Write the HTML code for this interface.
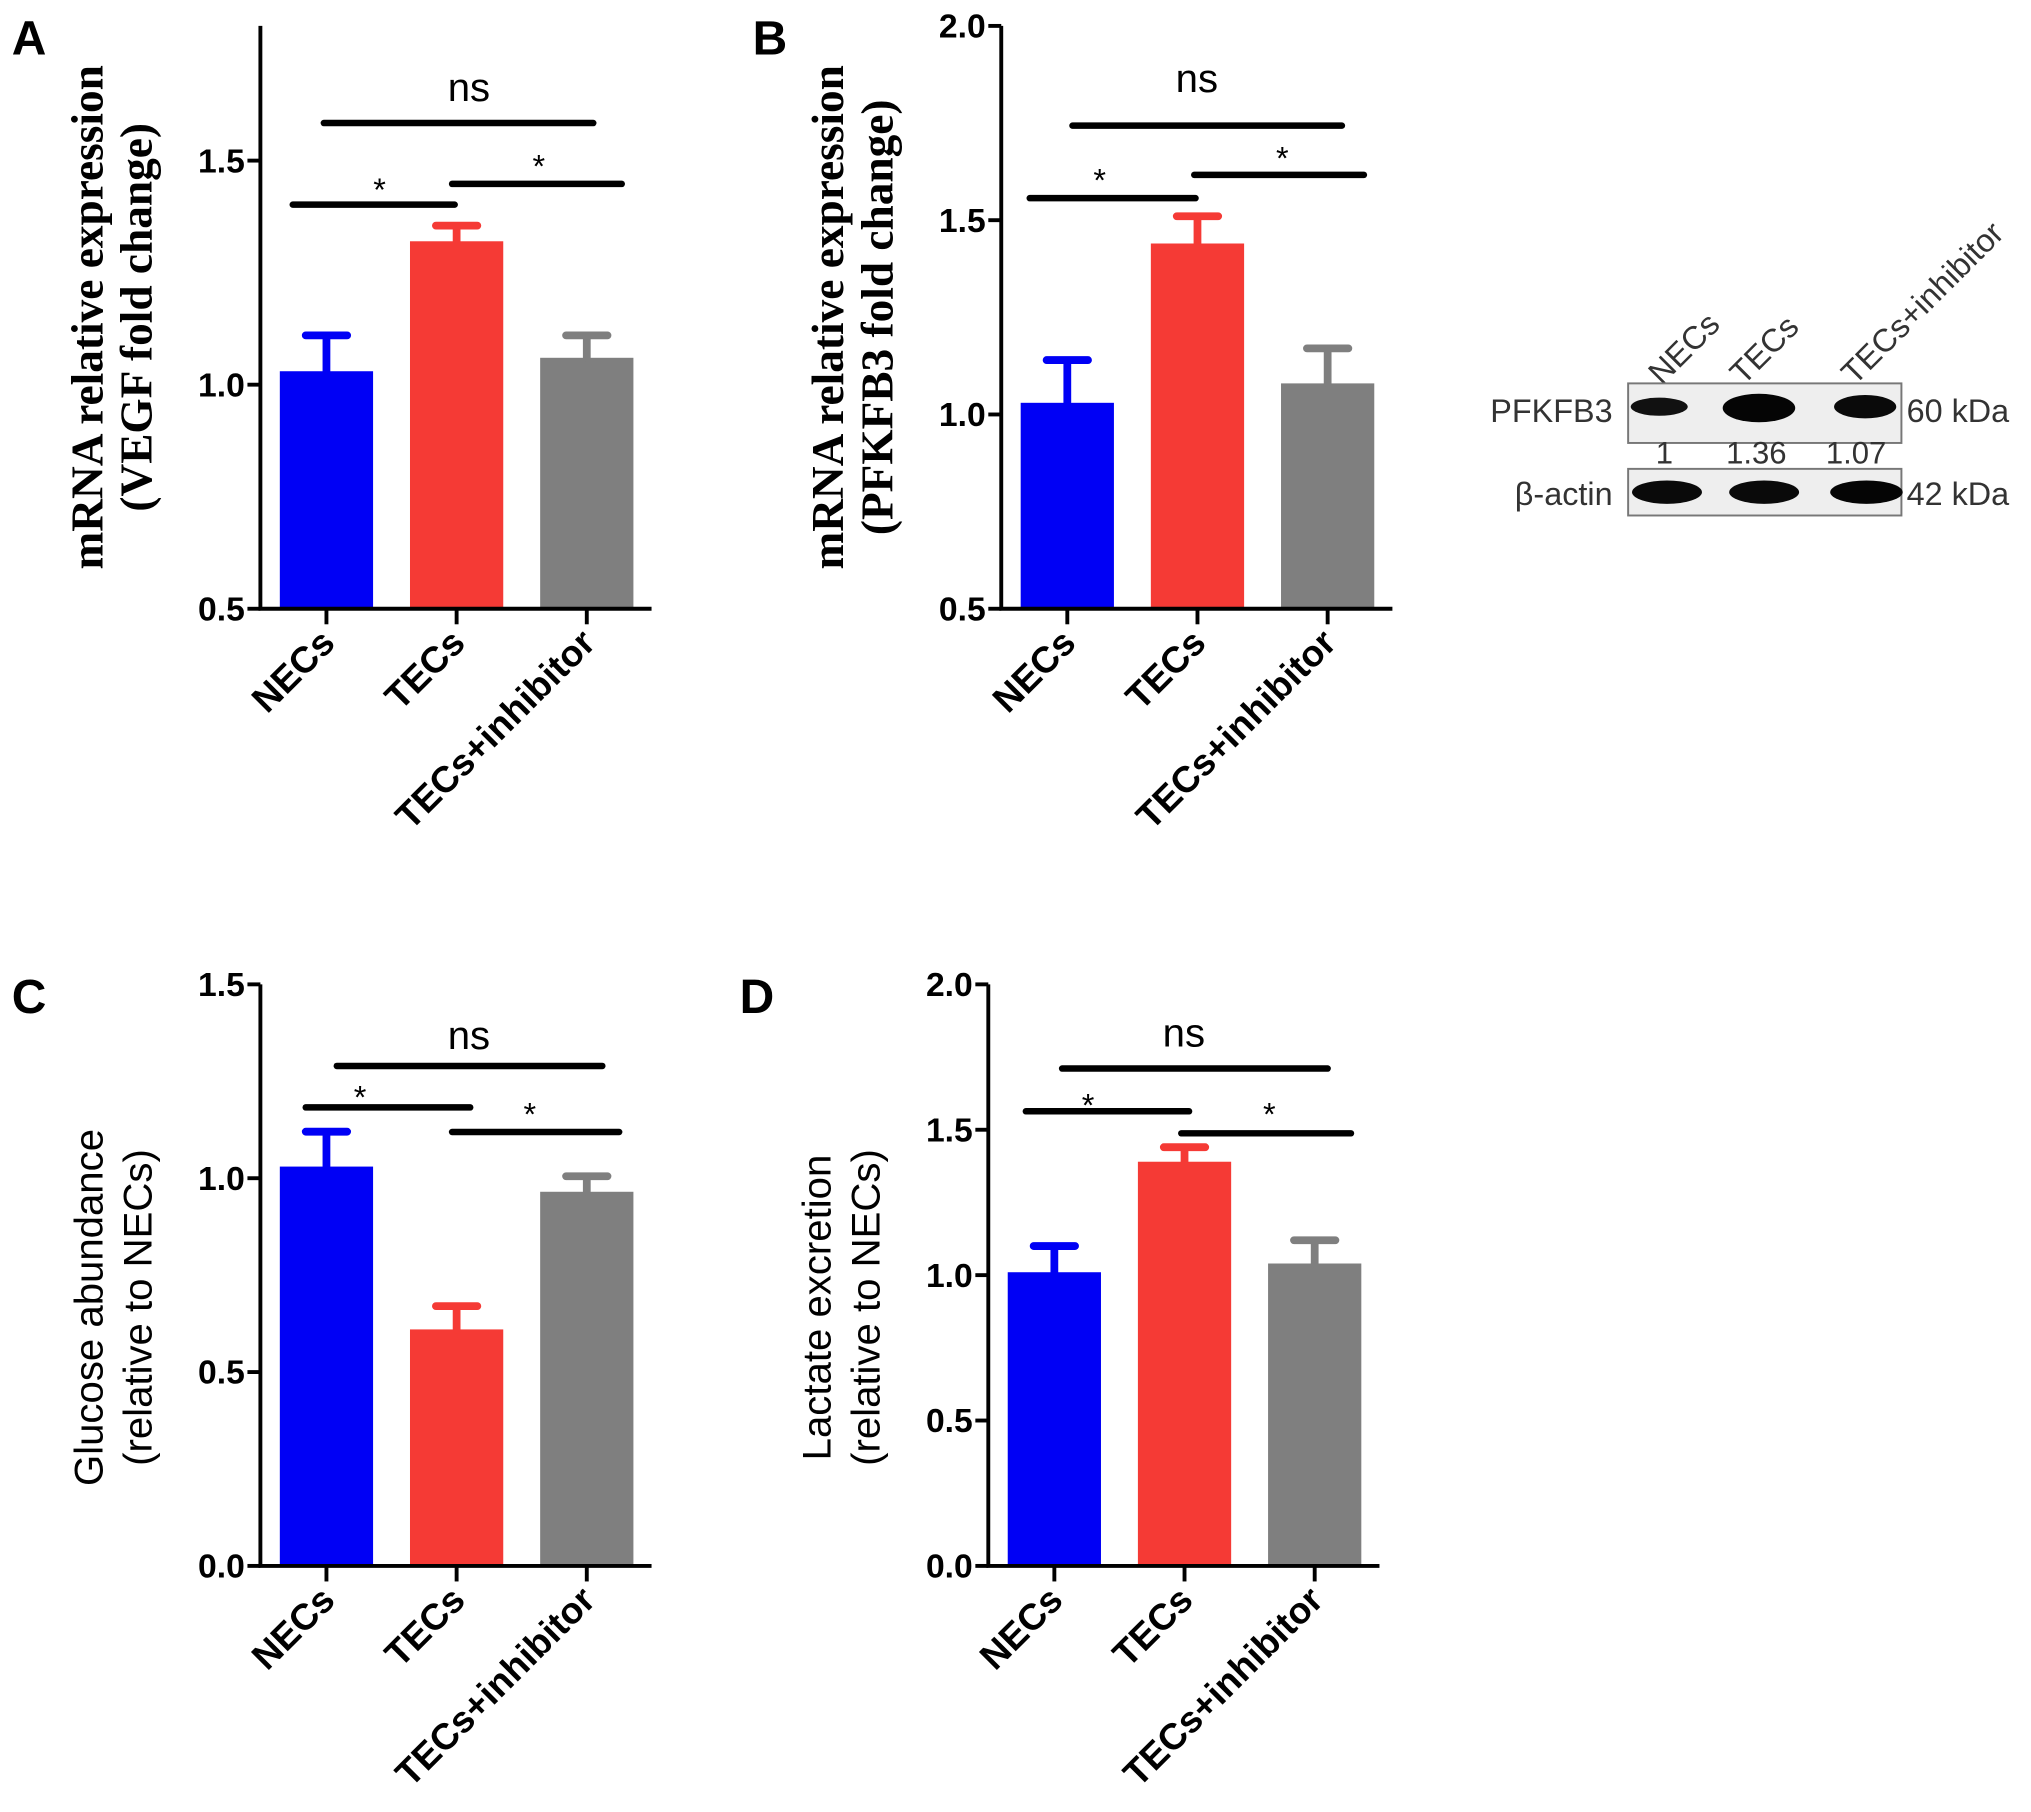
<!DOCTYPE html>
<html><head><meta charset="utf-8"><style>
html,body{margin:0;padding:0;background:#fff;}
svg{display:block;}
</style></head><body>
<svg id="fig" width="2031" height="1812" viewBox="0 0 1568 1399" xmlns="http://www.w3.org/2000/svg">
<g id="blot" font-family="Liberation Sans, Arial, sans-serif" fill="#333">
  <text x="1283" y="298" font-size="25" transform="rotate(-45 1283 298)">NECs</text>
  <text x="1346" y="298" font-size="25" transform="rotate(-45 1346 298)">TECs</text>
  <text x="1432" y="298" font-size="25" transform="rotate(-45 1432 298)">TECs+inhibitor</text>
  <rect x="1257" y="296" width="211" height="46" fill="#eee" stroke="#777" stroke-width="1.5"/>
  <ellipse cx="1281" cy="314" rx="22" ry="7" fill="#111"/>
  <ellipse cx="1358" cy="315" rx="28" ry="11" fill="#050505"/>
  <ellipse cx="1440" cy="314" rx="24" ry="9" fill="#0a0a0a"/>
  <rect x="1257" y="362" width="211" height="36" fill="#eee" stroke="#777" stroke-width="1.5"/>
  <ellipse cx="1287" cy="380" rx="27" ry="9" fill="#0a0a0a"/>
  <ellipse cx="1362" cy="380" rx="27" ry="9" fill="#0a0a0a"/>
  <ellipse cx="1441" cy="380" rx="28" ry="9" fill="#050505"/>
  <text x="1245" y="326" font-size="25" text-anchor="end">PFKFB3</text>
  <text x="1245" y="390" font-size="25" text-anchor="end">β-actin</text>
  <text x="1472" y="326" font-size="25">60 kDa</text>
  <text x="1472" y="390" font-size="25">42 kDa</text>
  <text x="1285" y="358" font-size="24" text-anchor="middle">1</text>
  <text x="1356" y="358" font-size="24" text-anchor="middle">1.36</text>
  <text x="1433" y="358" font-size="24" text-anchor="middle">1.07</text>
</g>
</svg>
<script>
const categories = ["NECs", "TECs", "TECs+inhibitor"];
const colors = ["#0000f5", "#f53a35", "#7f7f7f"];
const valuesA = [1.03, 1.32, 1.06];
const errorsA = [1.11, 1.355, 1.11];
const ticksA = [0.5, 1.0, 1.5];
const valuesB = [1.03, 1.44, 1.08];
const errorsB = [1.14, 1.51, 1.17];
const ticksB = [0.5, 1.0, 1.5, 2.0];
const valuesC = [1.03, 0.61, 0.965];
const errorsC = [1.12, 0.67, 1.005];
const ticksC = [0.0, 0.5, 1.0, 1.5];
const valuesD = [1.01, 1.39, 1.04];
const errorsD = [1.10, 1.44, 1.12];
const ticksD = [0.0, 0.5, 1.0, 1.5, 2.0];

const NS = "http://www.w3.org/2000/svg";
const svg = document.getElementById("fig");
function mk(tag, attrs, parent) {
  const e = document.createElementNS(NS, tag);
  for (const k in attrs) e.setAttribute(k, attrs[k]);
  parent.appendChild(e);
  return e;
}
function panel(p) {
  const g = mk("g", {}, svg);
  
  
  const y = v => p.y0 - (v - p.vmin) / (p.vmax - p.vmin) * (p.y0 - p.y1);
  const xs = i => p.ax + 51 + i * 100.5;
  const L = mk("text", {x: p.ax - 192, y: p.y1 + 22, "font-size": 37, "font-weight": "bold", "font-family": "Liberation Sans, Arial, sans-serif"}, g);
  L.textContent = p.id.toUpperCase();
  
  
  p.vals.forEach((v, i) => {
    const r = mk("rect", {x: xs(i) - 36, y: y(v), width: 72, height: p.y0 - y(v), fill: colors[i]}, g);
    
    
    const e = mk("path", {d: `M${xs(i)} ${y(v)}V${y(p.errs[i])}M${xs(i) - 16} ${y(p.errs[i])}H${xs(i) + 16}`, stroke: colors[i], "stroke-width": 6, "stroke-linecap": "round", fill: "none"}, g);
    
    
  });
  const ax = mk("path", {d: `M${p.ax} ${p.top}V${p.y0}H${p.ax + 302}`, stroke: "#000", "stroke-width": 3, fill: "none"}, g);
  
  
  p.ticks.forEach(t => {
    mk("line", {x1: p.ax - 10, x2: p.ax, y1: y(t), y2: y(t), stroke: "#000", "stroke-width": 3}, g);
    const tl = mk("text", {x: p.ax - 12, y: y(t) + 9, "text-anchor": "end", "font-size": 26, "font-weight": "bold", "font-family": "Liberation Sans, Arial, sans-serif"}, g);
    tl.textContent = t.toFixed(1);
    
    
  });
  categories.forEach((c, i) => {
    mk("line", {x1: xs(i), x2: xs(i), y1: p.y0, y2: p.y0 + 12, stroke: "#000", "stroke-width": 3}, g);
    const tx = xs(i) + 8, ty = p.y0 + 28;
    const xl = mk("text", {x: tx, y: ty, "text-anchor": "end", "font-size": 28.5, "font-weight": "bold", "font-family": "Liberation Sans, Arial, sans-serif", transform: `rotate(-45 ${tx} ${ty})`}, g);
    xl.textContent = c;
    
    
  });
  const cy = (p.top + p.y0) / 2 + (p.serif ? 0 : 25);
  p.title.forEach((t, k) => {
    const tx = p.ax - 122 + k * 38;
    const yt = mk("text", {x: tx, y: cy, "text-anchor": "middle", "font-size": p.serif ? 35 : 31, "font-weight": p.serif ? "bold" : "normal", "font-family": p.serif ? "Liberation Serif, serif" : "Liberation Sans, Arial, sans-serif", transform: `rotate(-90 ${tx} ${cy})`}, g);
    yt.textContent = t;
    
    
  });
  p.sig.forEach(s => {
    const l = mk("line", {x1: s[0], x2: s[1], y1: s[2], y2: s[2], stroke: "#000", "stroke-width": 5, "stroke-linecap": "round"}, g);
    
    
    const t = mk("text", {x: s[3], y: s[4], "text-anchor": "middle", "font-size": s[5] === "ns" ? 31 : 25, "font-family": "Liberation Sans, Arial, sans-serif"}, g);
    t.textContent = s[5];
    
    
  });
}
panel({id: "a", ax: 201, top: 20, y0: 470, y1: 20, vmin: 0.5, vmax: 1.5 + 0.5 * (124 - 20) / 173, vals: valuesA, errs: errorsA, ticks: ticksA, serif: true,
  title: ["mRNA relative expression", "(VEGF fold change)"],
  sig: [[250, 458, 95, 362, 78, "ns"], [226, 351, 158, 293, 155, "*"], [349, 480, 142, 416, 137, "*"]]});
panel({id: "b", ax: 773, top: 20, y0: 470, y1: 20, vmin: 0.5, vmax: 2.0, vals: valuesB, errs: errorsB, ticks: ticksB, serif: true,
  title: ["mRNA relative expression", "(PFKFB3 fold change)"],
  sig: [[828, 1036, 97, 924, 71, "ns"], [795, 923, 153, 849, 148, "*"], [922, 1053, 135, 990, 131, "*"]]});
panel({id: "c", ax: 201, top: 760, y0: 1209, y1: 760, vmin: 0.0, vmax: 1.5, vals: valuesC, errs: errorsC, ticks: ticksC, serif: false,
  title: ["Glucose abundance", "(relative to NECs)"],
  sig: [[260, 465, 823, 362, 810, "ns"], [236, 363, 855, 278, 856, "*"], [349, 478, 874, 409, 869, "*"]]});
panel({id: "d", ax: 763, top: 760, y0: 1209, y1: 760, vmin: 0.0, vmax: 2.0, vals: valuesD, errs: errorsD, ticks: ticksD, serif: false,
  title: ["Lactate excretion", "(relative to NECs)"],
  sig: [[820, 1025, 825, 914, 808, "ns"], [792, 918, 858, 840, 862, "*"], [912, 1043, 875, 980, 869, "*"]]});
</script>
</body></html>
